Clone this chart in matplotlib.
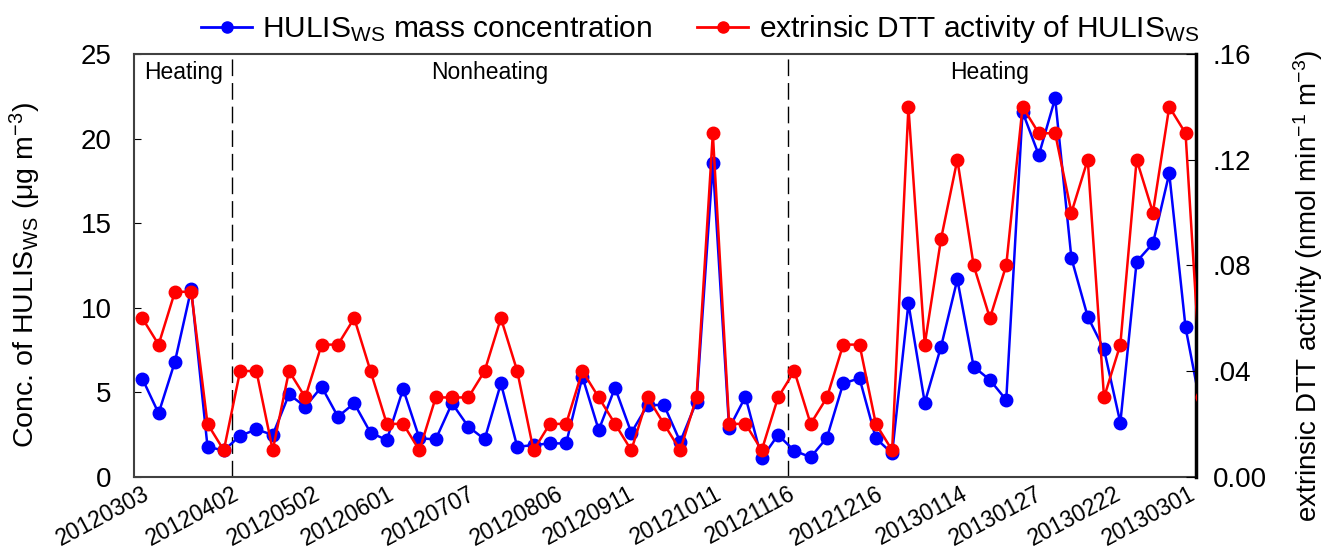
import matplotlib
matplotlib.use("Agg")
import matplotlib.pyplot as plt
from matplotlib.lines import Line2D
from matplotlib.ticker import FixedLocator, FixedFormatter

plt.rcParams['font.family'] = ['Liberation Sans', 'DejaVu Sans']
plt.rcParams['mathtext.fontset'] = 'custom'
plt.rcParams['mathtext.rm'] = 'Liberation Sans'
plt.rcParams['mathtext.it'] = 'Liberation Sans:italic'
plt.rcParams['mathtext.bf'] = 'Liberation Sans:bold'

# ---- data ----
hulis_mass = [5.8, 3.75, 6.8, 11.1, 1.77, 1.55, 2.42, 2.8, 2.47, 4.87,
              4.14, 5.32, 3.55, 4.34, 2.6, 2.17, 5.19, 2.27, 2.21, 4.34,
              2.96, 2.21, 5.52, 1.77, 1.87, 1.97, 1.97, 5.91, 2.76, 5.26,
              2.6, 4.24, 4.24, 2.07, 4.44, 18.53, 2.86, 4.73, 1.09, 2.47,
              1.54, 1.15, 2.31, 5.52, 5.82, 2.27, 1.38, 10.25, 4.38, 7.69,
              11.67, 6.51, 5.72, 4.54, 21.58, 19.02, 22.38, 12.92, 9.46, 7.53,
              3.19, 12.72, 13.8, 17.94, 8.83, 3.8]
dtt_activity = [.06, .05, .07, .07, .02, .01, .04, .04, .01, .04,
                .03, .05, .05, .06, .04, .02, .02, .01, .03, .03,
                .03, .04, .06, .04, .01, .02, .02, .04, .03, .02,
                .01, .03, .02, .01, .03, .13, .02, .02, .01, .03,
                .04, .02, .03, .05, .05, .02, .01, .14, .05, .09,
                .12, .08, .06, .08, .14, .13, .13, .10, .12, .03,
                .05, .12, .10, .14, .13, .03]
sample_index = list(range(len(hulis_mass)))

date_labels = ['20120303', '20120402', '20120502', '20120601', '20120707',
               '20120806', '20120911', '20121011', '20121116', '20121216',
               '20130114', '20130127', '20130222', '20130301']
date_label_pos = [0, 5.5, 10.5, 15, 20, 25.4, 29.8, 35.1, 39.6, 45, 50.2, 54.8, 59.6, 64.2]
period_bounds = [5.5, 39.6]
period_names = ['Heating', 'Nonheating', 'Heating']
period_text_x = [2.55, 21.3, 52.0]

left_ticks = [0, 5, 10, 15, 20, 25]
right_ticks = [0.0, 0.04, 0.08, 0.12, 0.16]
right_tick_labels = ['0.00', '.04', '.08', '.12', '.16']

# ---- figure ----
fig = plt.figure(figsize=(13.25, 5.56), dpi=100)
ax = fig.add_axes([134/1325, 1-476.7/556, (1196.3-134)/1325, (476.7-54)/556])
ax2 = ax.twinx()

blue = '#0000ff'
red = '#ff0000'
ax.plot(sample_index, hulis_mass, '-o', color=blue, lw=1.8, ms=9, zorder=3)
ax2.plot(sample_index, dtt_activity, '-o', color=red, lw=1.8, ms=9, zorder=3)

ax.set_xlim(-0.51, 64.66)
ax.set_ylim(0, 25)
ax2.set_ylim(0, 0.16)

for b in period_bounds:
    ax.axvline(b, color='black', lw=1.0, ls=(0, (12, 5)), zorder=1)

for name, xpos in zip(period_names, period_text_x):
    ax.text(xpos, 24.6, name, ha='center', va='top', fontsize=16.5)

ax.xaxis.set_major_locator(FixedLocator(date_label_pos))
ax.xaxis.set_major_formatter(FixedFormatter(date_labels))
ax.xaxis.set_minor_locator(FixedLocator(period_bounds))
ax.tick_params(axis='x', which='major', length=0, labelsize=16.5, pad=4)
ax.tick_params(axis='x', which='minor', length=6, direction='out', width=1)
for lab in ax.get_xticklabels():
    lab.set_rotation(28)
    lab.set_ha('right')
    lab.set_rotation_mode('anchor')

ax.set_yticks(left_ticks)
ax.tick_params(axis='y', direction='in', length=5, labelsize=20, pad=16)
ax2.set_yticks(right_ticks)
ax2.set_yticklabels(right_tick_labels)
ax2.tick_params(axis='y', direction='in', length=7, labelsize=20, pad=12)

for sp in ['left', 'top', 'bottom']:
    ax.spines[sp].set_color('#404040')
    ax.spines[sp].set_linewidth(1.5)
    ax2.spines[sp].set_visible(False)
ax.spines['right'].set_visible(False)
ax2.spines['right'].set_color('black')
ax2.spines['right'].set_linewidth(2.5)

ax.set_ylabel(r'Conc. of HULIS$_{\mathrm{WS}}$ ($\mathrm{\mu}$g m$^{-3}$)', fontsize=20.5)
ax.yaxis.set_label_coords(-0.086, 0.477)
ax2.set_ylabel(r'extrinsic DTT activity (nmol min$^{-1}$ m$^{-3}$)', fontsize=20)
ax2.yaxis.set_label_coords(1.089, 0.452)

handles = [Line2D([], [], color=blue, marker='o', lw=2, ms=8),
           Line2D([], [], color=red, marker='o', lw=2, ms=8)]
labels = [r'HULIS$_{\mathrm{WS}}$ mass concentration',
          r'extrinsic DTT activity of HULIS$_{\mathrm{WS}}$']
fig.legend(handles, labels, loc='upper center', bbox_to_anchor=(700/1325, 1.025),
           ncol=2, frameon=False, fontsize=21.5, handlelength=1.7,
           columnspacing=1.5, handletextpad=0.35)

fig.savefig('out.png', dpi=100)
